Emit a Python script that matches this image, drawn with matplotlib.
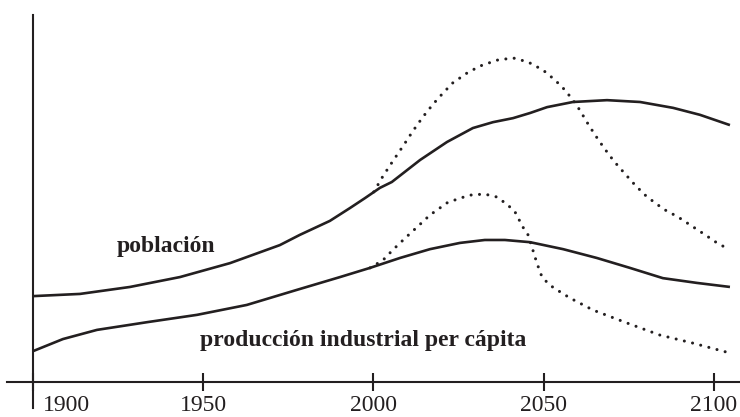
import matplotlib.pyplot as plt
from matplotlib.transforms import ScaledTranslation

# Data (years, relative level 0-100)
pop_years = [1900, 1913.8, 1928.5, 1943.2, 1957.9, 1972.5, 1978.4, 1987.2, 1993.1, 1997.5, 2001.9,
             2005.4, 2013.7, 2021.6, 2029.2, 2035.1, 2041.0, 2046.0, 2051.0, 2058.6, 2068.6, 2078.3,
             2088.0, 2095.9, 2104.7]
pop = [23.4, 24.0, 25.9, 28.6, 32.4, 37.3, 40.1, 43.9, 47.4, 50.1, 52.9,
       54.5, 60.5, 65.4, 69.2, 70.8, 71.9, 73.3, 74.9, 76.3, 76.8, 76.3,
       74.7, 72.8, 70.0]

pop_alt_years = [2000.1, 2002.8, 2005.7, 2008.7, 2011.6, 2014.5, 2017.5, 2020.4, 2023.3, 2027.5,
                 2031.3, 2036.3, 2041.0, 2045.4, 2049.8, 2053.3, 2056.2, 2058.6, 2060.6, 2062.7,
                 2065.1, 2067.7, 2070.6, 2073.9, 2076.8, 2079.7, 2082.7, 2085.6, 2089.4, 2093.5,
                 2097.1, 2100.9, 2104.7]
pop_alt = [51.8, 56.1, 60.2, 64.3, 68.4, 72.2, 75.7, 78.7, 81.5, 84.2,
           86.1, 87.7, 88.3, 87.2, 85.0, 82.3, 79.6, 76.8, 74.1, 70.8,
           67.3, 63.8, 60.2, 56.7, 53.7, 51.0, 48.8, 46.9, 45.0, 42.5,
           40.3, 37.9, 36.0]

ind_years = [1900, 1908.8, 1918.8, 1933.5, 1948.2, 1962.8, 1977.5, 1990.2, 1999.0, 2007.8, 2016.6,
             2025.4, 2032.7, 2038.6, 2046.0, 2055.7, 2065.6, 2075.3, 2085.0, 2095.0, 2104.7]
ind = [8.4, 11.7, 14.2, 16.3, 18.3, 21.0, 25.1, 28.6, 31.1, 33.8, 36.2,
       37.9, 38.7, 38.7, 38.1, 36.2, 33.8, 31.1, 28.3, 27.0, 25.9]

ind_alt_years = [1999.0, 2002.8, 2005.7, 2009.3, 2012.8, 2016.6, 2021.6, 2025.4, 2028.9, 2032.7,
                 2036.3, 2039.5, 2041.6, 2043.9, 2045.4, 2046.8, 2048.0, 2049.5, 2051.8, 2053.9,
                 2057.7, 2064.5, 2074.4, 2084.1, 2093.8, 2104.7]
ind_alt = [31.1, 33.2, 36.0, 39.2, 42.2, 45.5, 48.8, 50.1, 51.0, 51.2,
           50.4, 48.2, 46.3, 42.2, 40.1, 36.0, 32.4, 28.6, 26.4, 25.1,
           22.9, 19.6, 16.1, 12.8, 10.6, 7.9]

tick_years = [1900, 1950, 2000, 2050, 2100]

INK = "#231f20"
plt.rcParams["font.family"] = ["Liberation Serif", "DejaVu Serif"]

fig = plt.figure(figsize=(7.4, 4.17), dpi=100)
ax = fig.add_axes([0.01, 0.0216, 0.99, 0.9424])
ax.set_xlim(1892.5, 2107.65)
ax.set_ylim(-7.08, 100)

# scenario branches (dotted) first, then the main runs on top
dots = (0, (0.01, 2.75))
ax.plot(pop_alt_years, pop_alt, color=INK, lw=2.2, linestyle=dots, dash_capstyle="round")
ax.plot(ind_alt_years, ind_alt, color=INK, lw=2.2, linestyle=dots, dash_capstyle="round")
ax.plot(pop_years, pop, color=INK, lw=1.9, solid_capstyle="butt", solid_joinstyle="round")
ax.plot(ind_years, ind, color=INK, lw=1.9, solid_capstyle="butt", solid_joinstyle="round")

ax.text(1924.7, 35.4, "población", fontsize=17, fontweight="bold", color=INK,
        ha="left", va="baseline")
ax.text(1949.0, 9.8, "producción industrial per cápita", fontsize=17, fontweight="bold",
        color=INK, ha="left", va="baseline")

# axes: bare cross at 1900 / 0
for side in ["top", "right"]:
    ax.spines[side].set_visible(False)
ax.spines["left"].set_position(("data", 1900))
ax.spines["bottom"].set_position(("data", 0))
for side in ["left", "bottom"]:
    ax.spines[side].set_linewidth(1.5)
    ax.spines[side].set_color(INK)

ax.set_yticks([])
ax.set_xticks(tick_years)
ax.set_xticklabels([str(y) for y in tick_years])
ax.tick_params(axis="x", direction="inout", length=13, width=1.5, color=INK,
               labelsize=17, labelcolor=INK, pad=3)
ax.patch.set_visible(False)

# 1900 label sits to the right of the vertical axis
lab = ax.get_xticklabels()[0]
lab.set_horizontalalignment("left")
lab.set_transform(lab.get_transform() + ScaledTranslation(0.10, 0, fig.dpi_scale_trans))

fig.savefig("out.png", dpi=100)
